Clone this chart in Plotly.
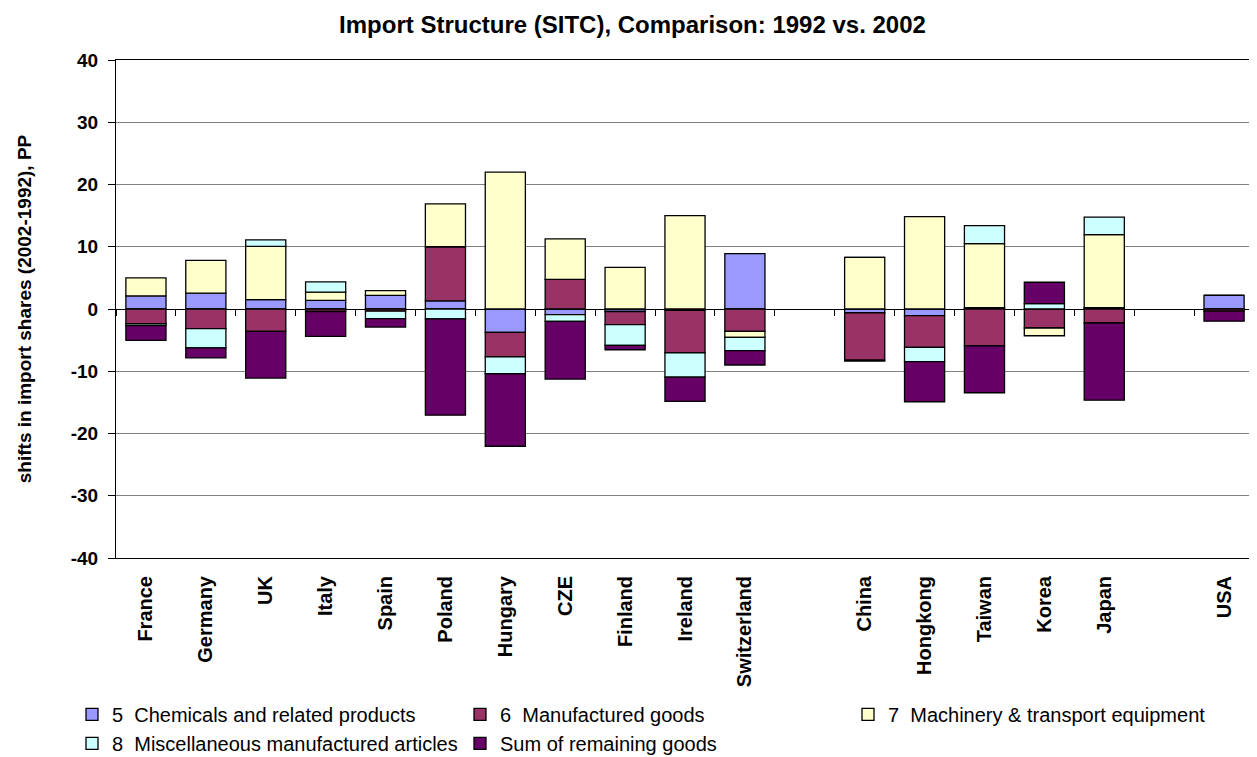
import plotly.graph_objects as go

# ---- data ----
countries = ["France", "Germany", "UK", "Italy", "Spain", "Poland", "Hungary", "CZE",
             "Finland", "Ireland", "Switzerland", " ", "China", "Hongkong", "Taiwan",
             "Korea", "Japan", "  ", "USA"]

chemicals = [2.1, 2.55, 1.5, 1.4, 2.2, 1.3, -3.75, -0.9, -0.4, -0.2, 8.9, None,
             -0.6, -1.05, 0.2, 0.0, 0.2, None, 2.2]
manufactured = [-2.35, -3.15, -3.6, -0.4, -0.35, 8.7, -3.95, 4.75, -2.1, -6.85, -3.6, None,
                -7.6, -5.1, -5.9, -3.05, -2.25, None, -0.35]
machinery = [2.9, 5.25, 8.55, 1.3, 0.75, 6.9, 22.0, 6.5, 6.7, 15.0, -0.95, None,
             8.3, 14.85, 10.3, -1.25, 11.75, None, 0.0]
misc = [-0.3, -3.1, 1.07, 1.65, -1.2, -1.6, -2.7, -1.1, -3.35, -3.9, -2.15, None,
        0.0, -2.3, 2.9, 0.85, 2.8, None, 0.0]
remaining = [-2.4, -1.6, -7.5, -4.0, -1.35, -15.45, -11.65, -9.25, -0.7, -3.9, -2.3, None,
             -0.15, -6.45, -7.55, 3.45, -12.4, None, -1.6]

y_tick_vals = [-40, -30, -20, -10, 0, 10, 20, 30, 40]
y_tick_text = ["-40", "-30", "-20", "-10", "0", "10", "20", "30", "40"]

series = [
    ("5  Chemicals and related products", chemicals, "#9999FF", "legend"),
    ("6  Manufactured goods", manufactured, "#993366", "legend2"),
    ("7  Machinery & transport equipment", machinery, "#FFFFCC", "legend3"),
    ("8  Miscellaneous manufactured articles", misc, "#CCFFFF", "legend"),
    ("Sum of remaining goods", remaining, "#660066", "legend2"),
]

FONT = "Arial, Liberation Sans, sans-serif"

# page has an 8px body margin; the figure is sized so the plot area lands where the reference has it
W, H = 1249, 749
ML, MR, MT, MB = 108, 3, 52, 199
PW = W - ML - MR

fig = go.Figure()
for name, vals, col, lg in series:
    fig.add_trace(go.Bar(
        x=countries, y=vals, name=name, legend=lg,
        marker=dict(color=col, line=dict(color="black", width=1.3)),
    ))

# helper invisible trace so the category tick marks can be drawn on the zero line
fig.add_trace(go.Scatter(x=countries, y=[None] * len(countries), xaxis="x2",
                         mode="none", showlegend=False, hoverinfo="skip"))

legend_common = dict(
    orientation="v",
    y=-0.275, yanchor="top",
    font=dict(size=20, family=FONT, color="black"),
    traceorder="normal",
    itemwidth=30,
    tracegroupgap=0,
    bgcolor="rgba(0,0,0,0)",
)

fig.update_layout(
    width=W, height=H,
    barmode="relative",
    bargap=0.33,
    plot_bgcolor="white",
    paper_bgcolor="white",
    margin=dict(l=ML, r=MR, t=MT, b=MB, autoexpand=False),
    font=dict(family=FONT, color="black"),
    title=dict(
        text="<b>Import Structure (SITC), Comparison: 1992 vs. 2002</b>",
        x=0.5, xref="container", xanchor="center",
        y=1 - 17 / H, yref="container", yanchor="middle",
        font=dict(size=24, family=FONT, color="black"),
    ),
    xaxis=dict(
        type="category",
        categoryorder="array", categoryarray=countries,
        tickangle=-90,
        tickfont=dict(size=20, family=FONT, color="black", weight="bold"),
        ticks="outside", ticklen=9, tickcolor="rgba(0,0,0,0)",
        showline=True, linecolor="black", linewidth=1, mirror=True,
        showgrid=False, automargin=False,
    ),
    xaxis2=dict(
        type="category",
        categoryorder="array", categoryarray=countries,
        overlaying="x", matches="x",
        anchor="free", position=0.5, side="bottom",
        showticklabels=False,
        ticks="outside", tickson="boundaries", ticklen=6,
        tickcolor="black", tickwidth=1,
        showline=False, showgrid=False, automargin=False,
    ),
    yaxis=dict(
        range=[-40, 40],
        tickmode="array", tickvals=y_tick_vals, ticktext=y_tick_text,
        tickfont=dict(size=19, family=FONT, color="black", weight="bold"),
        ticks="outside", ticklen=7, tickcolor="black",
        ticklabelstandoff=6,
        showline=True, linecolor="black", linewidth=1, mirror=True,
        showgrid=True, gridcolor="#808080", gridwidth=1,
        zeroline=True, zerolinecolor="black", zerolinewidth=1,
        automargin=False,
        title=dict(
            text="<b>shifts in import shares (2002-1992), PP</b>",
            font=dict(size=19, family=FONT, color="black"),
            standoff=34,
        ),
    ),
    legend=dict(x=(72 - 116) / PW, xanchor="left", **legend_common),
    legend2=dict(x=(460 - 116) / PW, xanchor="left", **legend_common),
    legend3=dict(x=(848 - 116) / PW, xanchor="left", **legend_common),
)

fig.write_html("out.html")
